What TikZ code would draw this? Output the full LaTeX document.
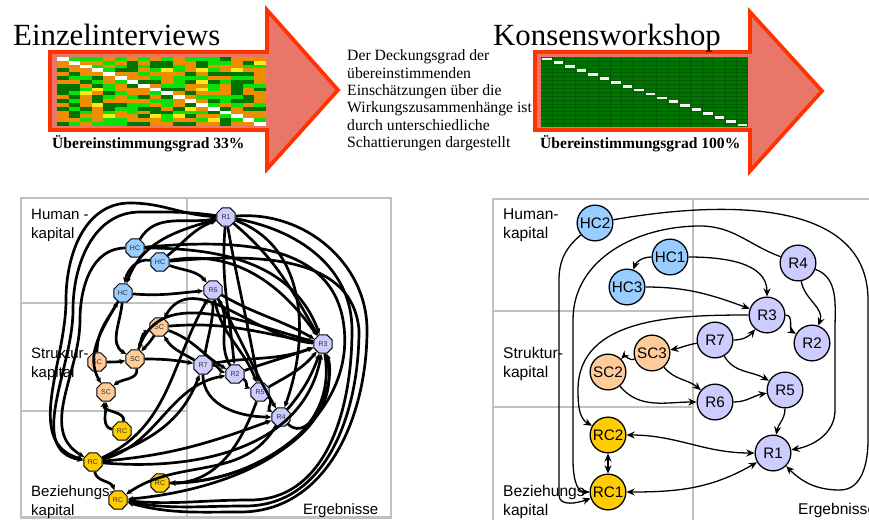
\documentclass[tikz,border=0pt]{standalone}
\usepackage{fontspec}
\setmainfont{Liberation Serif}
\newfontfamily\arialfont{Liberation Sans}
\usetikzlibrary{arrows.meta,shapes.geometric}

\definecolor{arrowfill}{RGB}{234,118,106}
\definecolor{arrowline}{RGB}{255,51,0}
\definecolor{mOrange}{RGB}{240,140,0}
\definecolor{mLime}{RGB}{10,225,10}
\definecolor{mDark}{RGB}{0,115,0}
\definecolor{mGrid}{RGB}{0,90,0}
\definecolor{mYellow}{RGB}{250,235,20}
\definecolor{gridgray}{RGB}{192,192,192}
\definecolor{hcblue}{RGB}{153,204,255}
\definecolor{scpeach}{RGB}{255,204,153}
\definecolor{rcgold}{RGB}{255,204,0}
\definecolor{rlila}{RGB}{204,204,255}

\tikzset{
  bigarrow/.style={draw=arrowline,fill=arrowfill,line width=3.2pt,line join=miter},
  panel/.style={draw=gridgray,line width=2.4pt},
  panellabel/.style={anchor=north west,align=left,inner sep=0pt,font=\arialfont\fontsize{12.8}{16.2}\selectfont},
  lnode/.style={regular polygon,regular polygon sides=8,draw=black,line width=0.9pt,
    minimum size=17pt,inner sep=0pt,text=black!80,font=\arialfont\fontsize{6}{6}\selectfont},
  rnode/.style={circle,draw=black,line width=1.1pt,minimum size=30.5pt,inner sep=0pt,
    font=\arialfont\fontsize{13}{13}\selectfont},
  ledge/.style={line width=2.3pt,-{Stealth[length=5pt,width=4.5pt]}},
  redge/.style={line width=1.1pt,-{Stealth[length=7pt,width=6pt]}},
  rboth/.style={line width=1.1pt,{Stealth[length=7pt,width=6pt]}-{Stealth[length=7pt,width=6pt]}},
}

\begin{document}
\begin{tikzpicture}[x=0.03cm,y=-0.03cm]
  \useasboundingbox (0,0) rectangle (869,519);

  % top: the two big arrows
  \draw[bigarrow] (50,52) -- (267,52) -- (267,10) -- (338,90) -- (267,169) -- (267,130) -- (50,130) -- cycle;
  \draw[bigarrow] (535,52) -- (750,52) -- (750,12) -- (822,91) -- (750,171) -- (750,130) -- (535,130) -- cycle;

  % matrix of the single interviews
  \pgfmathsetseed{42}
  \foreach \i in {0,...,17}{
    \foreach \j in {0,...,17}{
      \pgfmathrandominteger{\k}{0}{19}
      \ifnum\i=\j \def\cellcol{white}%
      \else\ifnum\k<7 \def\cellcol{mOrange}%
      \else\ifnum\k<13 \def\cellcol{mLime}%
      \else\ifnum\k<19 \def\cellcol{mDark}%
      \else\def\cellcol{mYellow}\fi\fi\fi\fi
      \fill[fill=\cellcol] ({57+11.61*\i},{57+3.83*\j}) rectangle +(11.61,3.83);
    }
  }

  % matrix of the workshop
  \fill[mDark] (541,57) rectangle (748,127);
  \foreach \i in {1,...,17}{
    \draw[mGrid,line width=0.5pt] ({541+11.5*\i},57) -- ({541+11.5*\i},127);
    \draw[mGrid,line width=0.3pt] (541,{57+3.89*\i}) -- (748,{57+3.89*\i});
  }
  \foreach \i in {0,...,17}
    \fill[white!92!gray] ({542+11.5*\i},{57.6+3.89*\i}) rectangle +(9.5,2.7);

  % titles and notes
  \node[anchor=base west,inner sep=0pt,font=\fontsize{26.3}{30}\selectfont] (titleA) at (13,45) {Einzelinterviews};
  \node[anchor=base west,inner sep=0pt,font=\fontsize{26.3}{30}\selectfont] (titleB) at (493,45) {Konsensworkshop};
  \node[anchor=base west,inner sep=0pt,font=\bfseries\fontsize{13.3}{15}\selectfont] (gradA) at (52,148) {Übereinstimmungsgrad 33\%};
  \node[anchor=base west,inner sep=0pt,font=\bfseries\fontsize{13.3}{15}\selectfont] (gradB) at (540,148) {Übereinstimmungsgrad 100\%};
  \node[anchor=north west,align=left,inner sep=0pt,font=\fontsize{13.4}{14.85}\selectfont] (note) at (347,49.5)
    {Der Deckungsgrad der\\übereinstimmenden\\Einschätzungen über die\\Wirkungszusammenhänge ist\\durch unterschiedliche\\Schattierungen dargestellt};

  % left panel: frames
  \draw[panel] (21,198) rectangle (187,303);
  \draw[panel] (21,303) rectangle (187,411);
  \draw[panel] (21,411) rectangle (187,517.5);
  \draw[panel] (187,198) rectangle (391,517.5);
  \node[panellabel] (lhum) at (31,209) {Human -\\kapital};
  \node[panellabel] (lstr) at (31,347) {Struktur-\\kapital};
  \node[panellabel] (lbez) at (31,485) {Beziehungs-\\kapital};
  \node[panellabel] (lerg) at (303,503) {Ergebnisse};

  % right panel: frames
  \draw[panel] (493,199) rectangle (693,311);
  \draw[panel] (493,311) rectangle (693,407);
  \draw[panel] (493,407) rectangle (693,540);
  \draw[panel] (693,199) rectangle (890,540);
  \node[panellabel,font=\arialfont\fontsize{13.3}{15.8}\selectfont] (rhum) at (503,209) {Human-\\kapital};
  \node[panellabel,font=\arialfont\fontsize{13.3}{15.8}\selectfont] (rstr) at (503,347) {Struktur-\\kapital};
  \node[panellabel,font=\arialfont\fontsize{13.3}{15.8}\selectfont] (rbez) at (503,485) {Beziehungs-\\kapital};
  \node[panellabel,font=\arialfont\fontsize{13.3}{15.8}\selectfont] (rerg) at (798,503) {Ergebnisse};

  % left graph: nodes
  \node[lnode,fill=rlila] (lR1) at (226,217) {R1};
  \node[lnode,fill=hcblue] (lHCa) at (135,248) {HC};
  \node[lnode,fill=hcblue] (lHCb) at (160,262) {HC};
  \node[lnode,fill=hcblue] (lHCc) at (123,293) {HC};
  \node[lnode,fill=rlila] (lR6) at (213,290) {R6};
  \node[lnode,fill=scpeach] (lSCa) at (159,327) {SC};
  \node[lnode,fill=rlila] (lR3) at (323,344) {R3};
  \node[lnode,fill=scpeach] (lSCc) at (97,362) {SC};
  \node[lnode,fill=scpeach] (lSCb) at (135,359) {SC};
  \node[lnode,fill=rlila] (lR7) at (203,365) {R7};
  \node[lnode,fill=rlila] (lR2) at (235,374) {R2};
  \node[lnode,fill=rlila] (lR5) at (260,392) {R5};
  \node[lnode,fill=scpeach] (lSCd) at (106,392) {SC};
  \node[lnode,fill=rlila] (lR4) at (281,417) {R4};
  \node[lnode,fill=rcgold] (lRCa) at (122,431) {RC};
  \node[lnode,fill=rcgold] (lRCb) at (93,462) {RC};
  \node[lnode,fill=rcgold] (lRCc) at (160,483) {RC};
  \node[lnode,fill=rcgold] (lRCd) at (118,500) {RC};

  % left graph: edges
  \draw[ledge] (lHCa) to[out=60,in=190] (lR1);
  \draw[ledge] (lHCb) to[out=40,in=200] (lR1);
  \draw[ledge] (lHCa) to[out=0,in=110] (lR3);
  \draw[ledge] (lHCb) to[out=10,in=125] (lR3);
  \draw[ledge] (lHCc) to[out=-5,in=185] (lR6);
  \draw[ledge] (lHCb) to[out=-20,in=130] (lR6);
  \draw[ledge] (lR1) to[out=195,in=70] (lHCc);
  \draw[ledge] (lHCb) to[out=170,in=80] (lHCc);
  \draw[ledge] (lHCa) to[out=180,in=90] (80,320) to[out=-90,in=150] (lRCb);
  \draw[ledge] (lR1) to[out=178,in=0] (130,203) to[out=180,in=90] (66,300) to[out=-90,in=165] (lRCb);
  \draw[ledge] (lR1) to[out=172,in=0] (140,212) to[out=180,in=90] (73,310) to[out=-90,in=170] (lRCb);
  \draw[ledge] (lHCc) to[out=-95,in=150] (lSCb);
  \draw[ledge] (lHCc) to[out=-120,in=120] (lSCd);
  \draw[ledge] (lSCc) to[out=90,in=-120] (lHCc);
  \draw[ledge] (lSCb) to[out=70,in=200] (lSCa);
  \draw[ledge] (lSCa) to[out=240,in=50] (lSCb);
  \draw[ledge] (lSCb) to[out=-80,in=40] (lSCd);
  \draw[ledge] (lSCc) to[out=0,in=190] (lSCb);
  \draw[ledge] (lSCb) to[out=0,in=170] (lR7);
  \draw[ledge] (lSCa) to[out=5,in=170] (lR3);
  \draw[ledge] (lSCa) to[out=-20,in=150] (lR2);
  \draw[ledge] (lR7) to[out=150,in=-60] (lSCa);
  \draw[ledge] (lR3) to[out=175,in=60] (lSCa);
  \draw[ledge] (lR3) to[out=165,in=70] (lSCb);
  \draw[ledge] (lRCa) to[out=170,in=-90] (lSCd);
  \draw[ledge] (lRCb) to[out=-80,in=110] (lRCd);
  \draw[ledge] (lRCb) to[out=5,in=200] (lR4);
  \draw[ledge] (lRCb) to[out=20,in=-110] (lR7);
  \draw[ledge] (lRCb) to[out=15,in=190] (lR2);
  \draw[ledge] (lRCb) to[out=25,in=-120] (lR6);
  \draw[ledge] (lRCc) to[out=0,in=-75] (lR3);
  \draw[ledge] (lR4) to[out=-120,in=35] (lRCd);
  \draw[ledge] (lR3) to[out=-80,in=5] (lRCd);
  \draw[ledge] (lR1) to[out=5,in=90] (367,330) to[out=-90,in=0] (240,512) to[out=180,in=-15] (lRCd);
  \draw[ledge] (lR1) to[out=-10,in=90] (352,330) to[out=-90,in=0] (250,500) to[out=180,in=-5] (lRCd);
  \draw[ledge] (lHCb) to[out=5,in=95] (359,330) to[out=-90,in=0] (245,506) to[out=180,in=-10] (lRCd);
  \draw[ledge] (lHCa) to[out=5,in=100] (343,320) to[out=-80,in=0] (lRCc);
  \draw[ledge] (lR1) to[out=-95,in=95] (lR2);
  \draw[ledge] (lR1) to[out=-80,in=100] (lR5);
  \draw[ledge] (lR1) to[out=-40,in=120] (lR3);
  \draw[ledge] (lR1) to[out=-20,in=70] (lR4);
  \draw[ledge] (lR6) to[out=-30,in=150] (lR3);
  \draw[ledge] (lR6) to[out=-60,in=120] (lR4);
  \draw[ledge] (lR6) to[out=-80,in=110] (lR5);
  \draw[ledge] (lR7) to[out=0,in=170] (lR2);
  \draw[ledge] (lR2) to[out=-30,in=160] (lR5);
  \draw[ledge] (lR5) to[out=-30,in=150] (lR4);
  \draw[ledge] (lR7) to[out=-90,in=180] (lR4);
  \draw[ledge] (lR7) to[out=10,in=200] (lR3);
  \draw[ledge] (lR2) to[out=20,in=200] (lR3);
  \draw[ledge] (lR5) to[out=30,in=230] (lR3);
  \draw[ledge] (lR4) to[out=50,in=-110] (lR3);
  \draw[ledge] (lR4) to[out=-45,in=-70] (lR3);
  \draw[ledge] (lR7) to[out=80,in=-90] (lR6);
  \draw[ledge] (lR2) to[out=120,in=-60] (lR6);
  \draw[ledge] (lRCb) to[out=-5,in=-100] (lR3);
  \draw[ledge] (lR5) to[out=-110,in=0] (lRCc);
  \draw[ledge] (lRCa) to[out=80,in=-100] (lSCd);

  % right graph: nodes
  \node[rnode,fill=hcblue] (rHC2) at (595,223) {HC2};
  \node[rnode,fill=hcblue] (rHC1) at (670,257) {HC1};
  \node[rnode,fill=hcblue] (rHC3) at (627,287) {HC3};
  \node[rnode,fill=rlila] (rR4) at (798,263) {R4};
  \node[rnode,fill=rlila] (rR3) at (767,315) {R3};
  \node[rnode,fill=rlila] (rR2) at (812,343) {R2};
  \node[rnode,fill=rlila] (rR7) at (715,340) {R7};
  \node[rnode,fill=scpeach] (rSC3) at (652,353) {SC3};
  \node[rnode,fill=scpeach] (rSC2) at (608,372) {SC2};
  \node[rnode,fill=rlila] (rR5) at (785,390) {R5};
  \node[rnode,fill=rlila] (rR6) at (715,402) {R6};
  \node[rnode,fill=rcgold] (rRC2) at (608,435) {RC2};
  \node[rnode,fill=rlila] (rR1) at (773,453) {R1};
  \node[rnode,fill=rcgold] (rRC1) at (608,492) {RC1};

  % right graph: edges
  \draw[redge] (rHC2) to[out=10,in=90] (868,300) -- (868,440) to[out=-90,in=0] (840,490) to[out=180,in=-45] (rR1);
  \draw[redge] (rHC2) to[out=220,in=90] (559,280) -- (559,495) to[out=-90,in=-160] (rRC1);
  \draw[redge] (rR4) to[out=160,in=0] (700,226) to[out=180,in=90] (573,320) -- (573,460) to[out=-90,in=180] (rRC1);
  \draw[redge] (rHC1) to[out=180,in=70] (rHC3);
  \draw[redge] (rHC1) to[out=0,in=90] (rR3);
  \draw[redge] (rHC3) to[out=0,in=160] (rR3);
  \draw[redge] (rR4) to[out=-80,in=70] (rR2);
  \draw[redge] (rR4) to[out=-20,in=90] (835,330) -- (835,410) to[out=-90,in=10] (rR1);
  \draw[redge] (rR3) to[out=180,in=90] (578,390) to[out=-90,in=150] (rRC2);
  \draw[redge] (rR3) to[out=0,in=150] (rR2);
  \draw[redge] (rR7) to[out=0,in=-130] (rR3);
  \draw[redge] (rR7) to[out=190,in=10] (rSC3);
  \draw[redge] (rR7) to[out=-60,in=150] (rR5);
  \draw[redge] (rSC3) to[out=200,in=45] (rSC2);
  \draw[redge] (rSC3) to[out=-50,in=140] (rR6);
  \draw[redge] (rSC2) to[out=-50,in=180] (rR6);
  \draw[redge] (rR6) to[out=0,in=190] (rR5);
  \draw[redge] (rR5) to[out=-90,in=80] (rR1);
  \draw[rboth] (rRC2) to[out=0,in=180] (rR1);
  \draw[rboth] (rRC1) to[out=0,in=-150] (rR1);
  \draw[rboth] (rRC2) -- (rRC1);
\end{tikzpicture}
\end{document}
